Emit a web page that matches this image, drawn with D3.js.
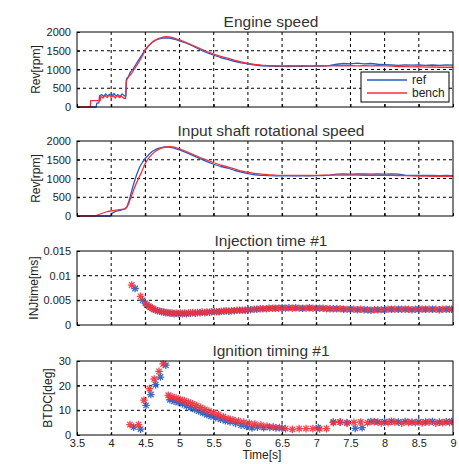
<!DOCTYPE html>
<html><head><meta charset="utf-8">
<script src="https://cdn.jsdelivr.net/npm/d3@7"></script>
<style>
html,body{margin:0;padding:0;background:#fff;}
svg{display:block;}
text{font-family:"Liberation Sans",Arial,sans-serif;fill:#222;}
.title{font-family:"Liberation Sans Narrow","Arial Narrow",sans-serif;font-size:15.5px;fill:#333;}
.tick{font-size:11px;}
.ylab{font-size:12px;}
</style></head><body>
<svg id="chart" width="459" height="464"></svg>
<script>
// Shared time axis
const timeTicks = [3.5, 4, 4.5, 5, 5.5, 6, 6.5, 7, 7.5, 8, 8.5, 9];
const timeTickLabels = ["3.5", "4", "4.5", "5", "5.5", "6", "6.5", "7", "7.5", "8", "8.5", "9"];

// Engine speed [rpm]: [time s, value]
const engineRef = [[3.5,0],[3.78,0],[3.79,100],[3.82,110],[3.83,300],[3.86,330],[3.89,280],[3.92,350],[3.95,290],[3.98,340],[4.01,300],[4.04,360],[4.07,290],[4.10,330],[4.13,280],[4.16,350],[4.19,300],[4.215,290],[4.225,760],[4.25,800],[4.28,930],[4.32,1010],[4.36,1130],[4.40,1250],[4.45,1390],[4.50,1540],[4.55,1640],[4.60,1720],[4.65,1780],[4.70,1815],[4.75,1835],[4.80,1845],[4.85,1840],[4.90,1820],[4.95,1795],[5.00,1765],[5.10,1700],[5.20,1620],[5.30,1530],[5.40,1450],[5.50,1380],[5.60,1320],[5.70,1270],[5.80,1220],[5.90,1180],[6.00,1150],[6.10,1120],[6.20,1100],[6.30,1090],[6.40,1085],[6.50,1085],[6.60,1080],[6.70,1090],[6.80,1085],[6.90,1090],[7.00,1095],[7.10,1090],[7.20,1110],[7.30,1140],[7.40,1160],[7.50,1150],[7.60,1170],[7.70,1150],[7.80,1160],[7.90,1140],[8.00,1130],[8.10,1120],[8.20,1110],[8.30,1120],[8.40,1115],[8.50,1120],[8.60,1110],[8.70,1120],[8.80,1110],[8.90,1120],[9.00,1115]];
const engineBench = [[3.5,0],[3.695,0],[3.70,170],[3.84,170],[3.85,290],[3.88,240],[3.91,310],[3.94,250],[3.97,320],[4.00,260],[4.03,300],[4.06,240],[4.09,310],[4.12,250],[4.15,290],[4.18,240],[4.21,225],[4.22,700],[4.26,820],[4.30,900],[4.35,1040],[4.40,1180],[4.45,1340],[4.50,1520],[4.55,1640],[4.60,1730],[4.65,1790],[4.70,1830],[4.75,1860],[4.80,1875],[4.85,1870],[4.90,1850],[4.95,1820],[5.00,1790],[5.10,1720],[5.20,1640],[5.30,1560],[5.40,1480],[5.50,1410],[5.60,1350],[5.70,1305],[5.80,1250],[5.90,1200],[6.00,1165],[6.10,1135],[6.20,1115],[6.30,1105],[6.40,1100],[6.50,1095],[6.60,1100],[6.70,1095],[6.80,1100],[6.90,1095],[7.00,1105],[7.10,1100],[7.20,1095],[7.30,1100],[7.40,1105],[7.50,1100],[7.60,1095],[7.70,1100],[7.80,1095],[7.90,1100],[8.00,1095],[8.10,1090],[8.20,1080],[8.30,1075],[8.40,1070],[8.50,1075],[8.60,1065],[8.70,1070],[8.80,1060],[8.90,1065],[9.00,1060]];

// Input shaft rotational speed [rpm]
const shaftRef = [[3.5,0],[3.99,0],[4.00,60],[4.05,110],[4.10,140],[4.15,160],[4.20,190],[4.23,240],[4.26,400],[4.29,600],[4.32,800],[4.35,980],[4.38,1140],[4.42,1320],[4.46,1440],[4.50,1540],[4.55,1640],[4.60,1720],[4.65,1775],[4.70,1810],[4.75,1830],[4.80,1840],[4.85,1835],[4.90,1820],[4.95,1790],[5.00,1760],[5.10,1690],[5.20,1610],[5.30,1530],[5.40,1450],[5.50,1380],[5.60,1320],[5.70,1280],[5.80,1220],[5.90,1170],[6.00,1130],[6.10,1100],[6.20,1085],[6.30,1075],[6.40,1070],[6.50,1070],[6.60,1068],[6.70,1070],[6.80,1068],[6.90,1072],[7.00,1075],[7.10,1080],[7.20,1090],[7.30,1115],[7.40,1120],[7.50,1118],[7.60,1122],[7.70,1120],[7.80,1118],[7.90,1120],[8.00,1118],[8.10,1120],[8.20,1115],[8.30,1090],[8.40,1085],[8.50,1080],[8.60,1082],[8.70,1080],[8.80,1078],[8.90,1080],[9.00,1078]];
const shaftBench = [[3.5,0],[3.76,0],[3.82,40],[3.88,80],[3.95,120],[4.05,150],[4.15,175],[4.21,190],[4.25,300],[4.28,450],[4.31,600],[4.34,750],[4.37,880],[4.40,1000],[4.44,1150],[4.48,1330],[4.52,1470],[4.56,1570],[4.60,1650],[4.65,1730],[4.70,1780],[4.75,1820],[4.80,1845],[4.85,1850],[4.90,1840],[4.95,1820],[5.00,1790],[5.10,1720],[5.20,1640],[5.30,1560],[5.40,1490],[5.50,1420],[5.60,1360],[5.70,1310],[5.80,1255],[5.90,1200],[6.00,1165],[6.10,1135],[6.20,1115],[6.30,1100],[6.40,1090],[6.50,1085],[6.60,1082],[6.70,1080],[6.80,1082],[6.90,1080],[7.00,1085],[7.10,1088],[7.20,1088],[7.30,1090],[7.40,1088],[7.50,1090],[7.60,1088],[7.70,1086],[7.80,1088],[7.90,1085],[8.00,1086],[8.10,1084],[8.20,1080],[8.30,1075],[8.40,1070],[8.50,1065],[8.60,1062],[8.70,1060],[8.80,1060],[8.90,1058],[9.00,1060]];

// Injection time #1 [ms]
const injRef = [[4.35,0.0074],[4.46,0.0050],[4.52,0.0041],[4.57,0.0036],[4.62,0.0032],[4.68,0.0029],[4.74,0.0027],[4.80,0.0025],[4.86,0.0024],[4.92,0.0023],[4.98,0.0023],[5.04,0.0023],[5.10,0.0023],[5.16,0.0024],[5.23,0.0024],[5.30,0.0025],[5.37,0.0025],[5.44,0.0026],[5.51,0.0027],[5.58,0.0027],[5.65,0.0028],[5.72,0.0028],[5.80,0.0029],[5.88,0.0030],[5.96,0.0030],[6.04,0.0031],[6.13,0.0032],[6.22,0.0033],[6.31,0.0034],[6.40,0.0034],[6.50,0.0035],[6.60,0.0035],[6.70,0.0035],[6.80,0.0034],[6.90,0.0035],[7.00,0.0034],[7.10,0.0034],[7.20,0.0033],[7.30,0.0033],[7.40,0.0032],[7.50,0.0032],[7.60,0.0031],[7.70,0.0031],[7.80,0.0030],[7.90,0.0031],[8.00,0.0031],[8.10,0.0032],[8.20,0.0032],[8.30,0.0032],[8.40,0.0031],[8.50,0.0032],[8.60,0.0032],[8.70,0.0032],[8.80,0.0031],[8.90,0.0032],[8.98,0.0032]];
const injBench = [[4.30,0.0081],[4.43,0.0058],[4.50,0.0044],[4.55,0.0038],[4.60,0.0034],[4.65,0.0030],[4.71,0.0028],[4.77,0.0026],[4.83,0.0025],[4.89,0.0024],[4.95,0.0024],[5.01,0.0024],[5.07,0.0024],[5.13,0.0024],[5.19,0.0025],[5.26,0.0025],[5.33,0.0026],[5.40,0.0026],[5.47,0.0027],[5.54,0.0027],[5.61,0.0028],[5.68,0.0029],[5.76,0.0029],[5.84,0.0030],[5.92,0.0030],[6.00,0.0031],[6.09,0.0032],[6.18,0.0033],[6.27,0.0033],[6.36,0.0034],[6.45,0.0034],[6.55,0.0034],[6.65,0.0034],[6.75,0.0034],[6.85,0.0034],[6.95,0.0034],[7.05,0.0034],[7.15,0.0033],[7.25,0.0033],[7.35,0.0033],[7.45,0.0032],[7.55,0.0032],[7.65,0.0032],[7.75,0.0031],[7.85,0.0031],[7.95,0.0031],[8.05,0.0032],[8.15,0.0032],[8.25,0.0032],[8.35,0.0032],[8.45,0.0032],[8.55,0.0032],[8.65,0.0032],[8.75,0.0032],[8.85,0.0032],[8.95,0.0032]];

// Ignition timing #1 [deg BTDC]
const ignRef = [[4.33,3.2],[4.43,2.4],[4.51,12.0],[4.58,16.4],[4.65,20.4],[4.72,23.5],[4.80,28.3],[4.86,14.3],[4.92,13.7],[4.98,13.2],[5.04,12.6],[5.10,11.8],[5.16,11.1],[5.22,10.4],[5.28,9.7],[5.34,9.0],[5.40,8.2],[5.46,7.6],[5.53,7.0],[5.60,6.4],[5.67,5.8],[5.74,5.3],[5.82,4.7],[5.90,4.0],[5.98,3.5],[6.06,2.9],[6.14,3.2],[6.23,3.0],[6.32,3.1],[6.41,2.9],[6.50,2.8],[7.03,3.0],[7.25,5.3],[7.35,5.2],[7.45,5.0],[7.57,2.7],[7.67,3.0],[7.80,5.5],[7.90,5.3],[8.00,5.4],[8.10,5.6],[8.20,5.3],[8.30,5.5],[8.40,5.2],[8.50,5.4],[8.60,5.3],[8.70,5.5],[8.80,5.2],[8.90,5.4],[8.98,5.5]];
const ignBench = [[4.275,4.2],[4.40,4.2],[4.48,14.1],[4.56,18.8],[4.63,22.7],[4.70,25.8],[4.76,28.8],[4.835,16.1],[4.89,15.5],[4.95,15.0],[5.01,14.4],[5.07,13.9],[5.13,13.3],[5.19,12.6],[5.25,11.9],[5.31,11.2],[5.37,10.4],[5.43,9.7],[5.50,9.0],[5.57,8.2],[5.64,7.4],[5.71,6.7],[5.78,6.2],[5.86,5.7],[5.94,5.2],[6.02,4.8],[6.10,4.4],[6.19,4.0],[6.28,3.6],[6.37,3.3],[6.46,3.0],[6.55,2.6],[6.65,2.3],[6.75,2.6],[6.85,2.6],[6.95,2.6],[7.05,2.5],[7.15,2.6],[7.25,5.0],[7.35,5.2],[7.45,4.8],[7.55,5.1],[7.65,5.3],[7.75,5.0],[7.85,5.4],[7.95,4.9],[8.05,5.0],[8.15,5.2],[8.25,4.8],[8.35,5.1],[8.45,5.0],[8.55,4.9],[8.65,5.2],[8.75,4.8],[8.85,5.0],[8.95,5.1]];

// Y tick values and labels per panel
const rpmTicks = [0, 500, 1000, 1500, 2000];
const rpmTickLabels = ["0", "500", "1000", "1500", "2000"];
const injTicks = [0, 0.005, 0.01, 0.015];
const injTickLabels = ["0", "0.005", "0.01", "0.015"];
const ignTicks = [0, 10, 20, 30];
const ignTickLabels = ["0", "10", "20", "30"];

const seriesNames = ["ref", "bench"];
const seriesColors = ["#2a5bbf", "#f0303c"];

const panels = [
  {title: "Engine speed", ylabel: "Rev[rpm]", top: 32, bottom: 107, domain: [0, 2000], ticks: rpmTicks, labels: rpmTickLabels, data: [engineRef, engineBench], kind: "line", ylx: 40, legend: true},
  {title: "Input shaft rotational speed", ylabel: "Rev[rpm]", top: 141, bottom: 216, domain: [0, 2000], ticks: rpmTicks, labels: rpmTickLabels, data: [shaftRef, shaftBench], kind: "line", ylx: 40},
  {title: "Injection time #1", ylabel: "INJtime[ms]", top: 251, bottom: 325, domain: [0, 0.015], ticks: injTicks, labels: injTickLabels, data: [injRef, injBench], kind: "marker", ylx: 38},
  {title: "Ignition timing #1", ylabel: "BTDC[deg]", top: 361, bottom: 435, domain: [0, 30], ticks: ignTicks, labels: ignTickLabels, data: [ignRef, ignBench], kind: "marker", ylx: 52, xlabels: true}
];

const left = 77, right = 453;
const svg = d3.select("#chart");
const x = d3.scaleLinear().domain([3.5, 9]).range([left, right]);

// asterisk marker: plus + cross
function star(r) {
  const d = r * 0.72;
  return `M${-r},0H${r}M0,${-r}V${r}M${-d},${-d}L${d},${d}M${-d},${d}L${d},${-d}`;
}

panels.forEach((p, i) => {
  const y = d3.scaleLinear().domain(p.domain).range([p.bottom, p.top]);
  const g = svg.append("g");
  const clipId = "clip" + i;
  svg.append("clipPath").attr("id", clipId).append("rect")
    .attr("x", left).attr("y", p.top - 4).attr("width", right - left).attr("height", p.bottom - p.top + 8);

  // dashed grid
  g.append("g").selectAll("line").data(timeTicks.slice(1, -1)).join("line")
    .attr("x1", d => x(d)).attr("x2", d => x(d)).attr("y1", p.top).attr("y2", p.bottom)
    .attr("stroke", "#000").attr("stroke-width", 1).attr("stroke-dasharray", "3,3");
  g.append("g").selectAll("line").data(p.ticks.slice(1, -1)).join("line")
    .attr("x1", left).attr("x2", right).attr("y1", d => y(d)).attr("y2", d => y(d))
    .attr("stroke", "#000").attr("stroke-width", 1).attr("stroke-dasharray", "3,3");

  // data
  const dg = g.append("g").attr("clip-path", `url(#${clipId})`);
  p.data.forEach((ser, k) => {
    if (p.kind === "line") {
      dg.append("path").datum(ser)
        .attr("fill", "none").attr("stroke", seriesColors[k]).attr("stroke-width", 1.3)
        .attr("stroke-linejoin", "round")
        .attr("d", d3.line().x(d => x(d[0])).y(d => y(d[1])));
    } else {
      dg.append("g").selectAll("path").data(ser).join("path")
        .attr("transform", d => `translate(${x(d[0])},${y(d[1])})`)
        .attr("d", star(3.8))
        .attr("fill", "none").attr("stroke", seriesColors[k]).attr("stroke-width", 1.3)
        .attr("stroke-opacity", 0.9);
    }
  });

  // axes via d3 axis generators (ticks inward)
  const yAxis = d3.axisLeft(y).tickValues(p.ticks).tickFormat((d, j) => p.labels[j]).tickSizeInner(-3).tickSizeOuter(0).tickPadding(6);
  const ya = g.append("g").attr("transform", `translate(${left},0)`).call(yAxis);
  ya.select(".domain").remove();
  ya.selectAll("line").attr("stroke", "#000");
  ya.selectAll("text").attr("class", "tick").style("font-size", "11px").attr("fill", "#222");

  const xAxis = d3.axisBottom(x).tickValues(timeTicks).tickFormat((d, j) => p.xlabels ? timeTickLabels[j] : "").tickSizeInner(-3).tickSizeOuter(0).tickPadding(4);
  const xa = g.append("g").attr("transform", `translate(0,${p.bottom})`).call(xAxis);
  xa.select(".domain").remove();
  xa.selectAll("line").attr("stroke", "#000");
  xa.selectAll("text").style("font-size", "11px").attr("fill", "#222");

  // frame
  g.append("rect").attr("x", left).attr("y", p.top).attr("width", right - left).attr("height", p.bottom - p.top)
    .attr("fill", "none").attr("stroke", "#000").attr("stroke-width", 1);

  // title and y label
  g.append("text").attr("class", "title").attr("x", 271).attr("y", p.top - 5).attr("text-anchor", "middle").text(p.title);
  g.append("text").attr("class", "ylab").attr("text-anchor", "middle")
    .attr("transform", `translate(${p.ylx},${(p.top + p.bottom) / 2}) rotate(-90)`).text(p.ylabel);

  if (p.legend) {
    const lg = g.append("g");
    lg.append("rect").attr("x", 361).attr("y", 72).attr("width", 88).attr("height", 30)
      .attr("fill", "#fff").attr("stroke", "#000").attr("stroke-width", 1);
    seriesNames.forEach((n, k) => {
      const ly = 80 + k * 13;
      lg.append("line").attr("x1", 367).attr("x2", 407).attr("y1", ly).attr("y2", ly)
        .attr("stroke", seriesColors[k]).attr("stroke-width", 1.3);
      lg.append("text").attr("x", 412).attr("y", ly + 4).style("font-size", "12px").text(n);
    });
  }
});

svg.append("text").attr("x", 262).attr("y", 459).attr("text-anchor", "middle").style("font-size", "12px").text("Time[s]");
</script>
</body></html>
